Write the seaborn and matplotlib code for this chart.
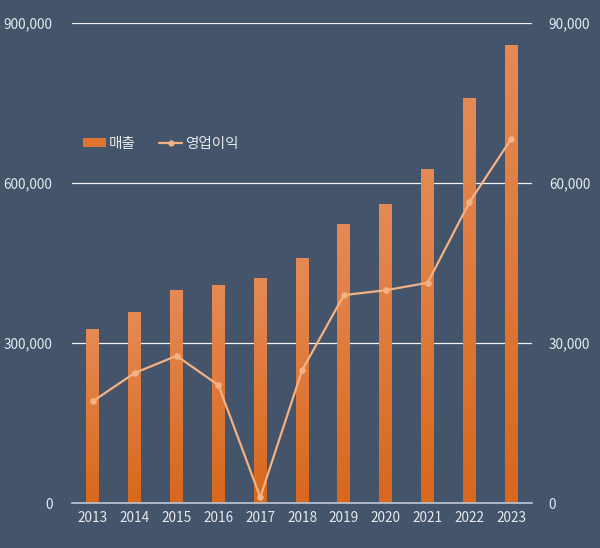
import numpy as np
import pandas as pd
import matplotlib
matplotlib.use('Agg')
import matplotlib.pyplot as plt
from matplotlib.lines import Line2D
from matplotlib.patches import Patch
from matplotlib.colors import LinearSegmentedColormap
from matplotlib.ticker import FuncFormatter
import seaborn as sns

# 데이터
years = ['2013', '2014', '2015', '2016', '2017', '2018', '2019', '2020', '2021', '2022', '2023']
sales = [326000, 358000, 399000, 409000, 422000, 459000, 523000, 561000, 626000, 759000, 859000]
profit = [19100, 24400, 27600, 22100, 1100, 24900, 39000, 39900, 41300, 56400, 68300]

BG = '#44546A'
BAR = '#DE7530'
BAR_TOP = '#E58A55'
BAR_BOT = '#D8681C'
LINE = '#F4B183'
TXT = '#E6E9EE'

sns.set_theme(style='white')
plt.rcParams['font.family'] = ['Noto Sans CJK KR', 'DejaVu Sans']

df = pd.DataFrame({'연도': years, '매출': sales, '영업이익': profit})

fig = plt.figure(figsize=(6, 5.48), dpi=100, facecolor=BG)
ax = fig.add_axes([0.12, 0.082, 0.767, 0.876])
ax.set_facecolor(BG)

sns.barplot(data=df, x='연도', y='매출', color=BAR, width=0.31, saturation=1,
            linewidth=0, ax=ax, zorder=2)

ax.set_ylim(0, 900000)
ax.set_xlim(-0.5, 10.5)

# 막대 그라데이션
grad = LinearSegmentedColormap.from_list('g', [BAR_BOT, BAR_TOP])
for p in ax.patches:
    x0, y0 = p.get_x(), p.get_y()
    w, h = p.get_width(), p.get_height()
    img = ax.imshow(np.linspace(0, 1, 200).reshape(-1, 1), cmap=grad, aspect='auto',
                    origin='lower', extent=[x0, x0 + w, y0, y0 + h], zorder=2.1)
    img.set_clip_path(p)
    p.set_facecolor('none')
ax.set_ylim(0, 900000)
ax.set_xlim(-0.5, 10.5)

ax2 = ax.twinx()
sns.pointplot(data=df, x='연도', y='영업이익', color=LINE, markers='o', ax=ax2,
              markersize=3.5, linewidth=1.6)

ax2.set_ylim(0, 90000)
ax2.set_xlim(-0.5, 10.5)
ax.set_yticks([0, 300000, 600000, 900000])
ax2.set_yticks([0, 30000, 60000, 90000])
fmt = FuncFormatter(lambda v, p: f'{int(v):,}')
ax.yaxis.set_major_formatter(fmt)
ax2.yaxis.set_major_formatter(fmt)

ax.yaxis.grid(True, color='#F2F2F2', linewidth=0.9, zorder=0)
ax.set_axisbelow(True)
ax.set_xlabel('')
ax.set_ylabel('')
ax2.set_xlabel('')
ax2.set_ylabel('')

for a in (ax, ax2):
    for s in ['top', 'left', 'right', 'bottom']:
        a.spines[s].set_visible(False)
    a.tick_params(length=0, colors=TXT, labelsize=9.8)
ax.spines['bottom'].set_visible(True)
ax.spines['bottom'].set_color('#BFC7D3')
ax.spines['bottom'].set_linewidth(1.2)
ax.spines['bottom'].set_zorder(3)
ax.tick_params(axis='y', pad=14)
ax.tick_params(axis='x', pad=6)
ax2.tick_params(axis='y', pad=12)

handles = [Patch(facecolor=BAR, edgecolor='none'),
           Line2D([0], [0], color=LINE, lw=1.6, marker='o', markersize=3.5)]
ax.legend(handles, ['매출', '영업이익'], loc='upper left', bbox_to_anchor=(-0.005, 0.79),
          ncol=2, frameon=False, fontsize=10.5, labelcolor=TXT,
          handlelength=1.6, handleheight=0.55, columnspacing=1.6, handletextpad=0.2)

fig.savefig('out.png', dpi=100, facecolor=BG)
